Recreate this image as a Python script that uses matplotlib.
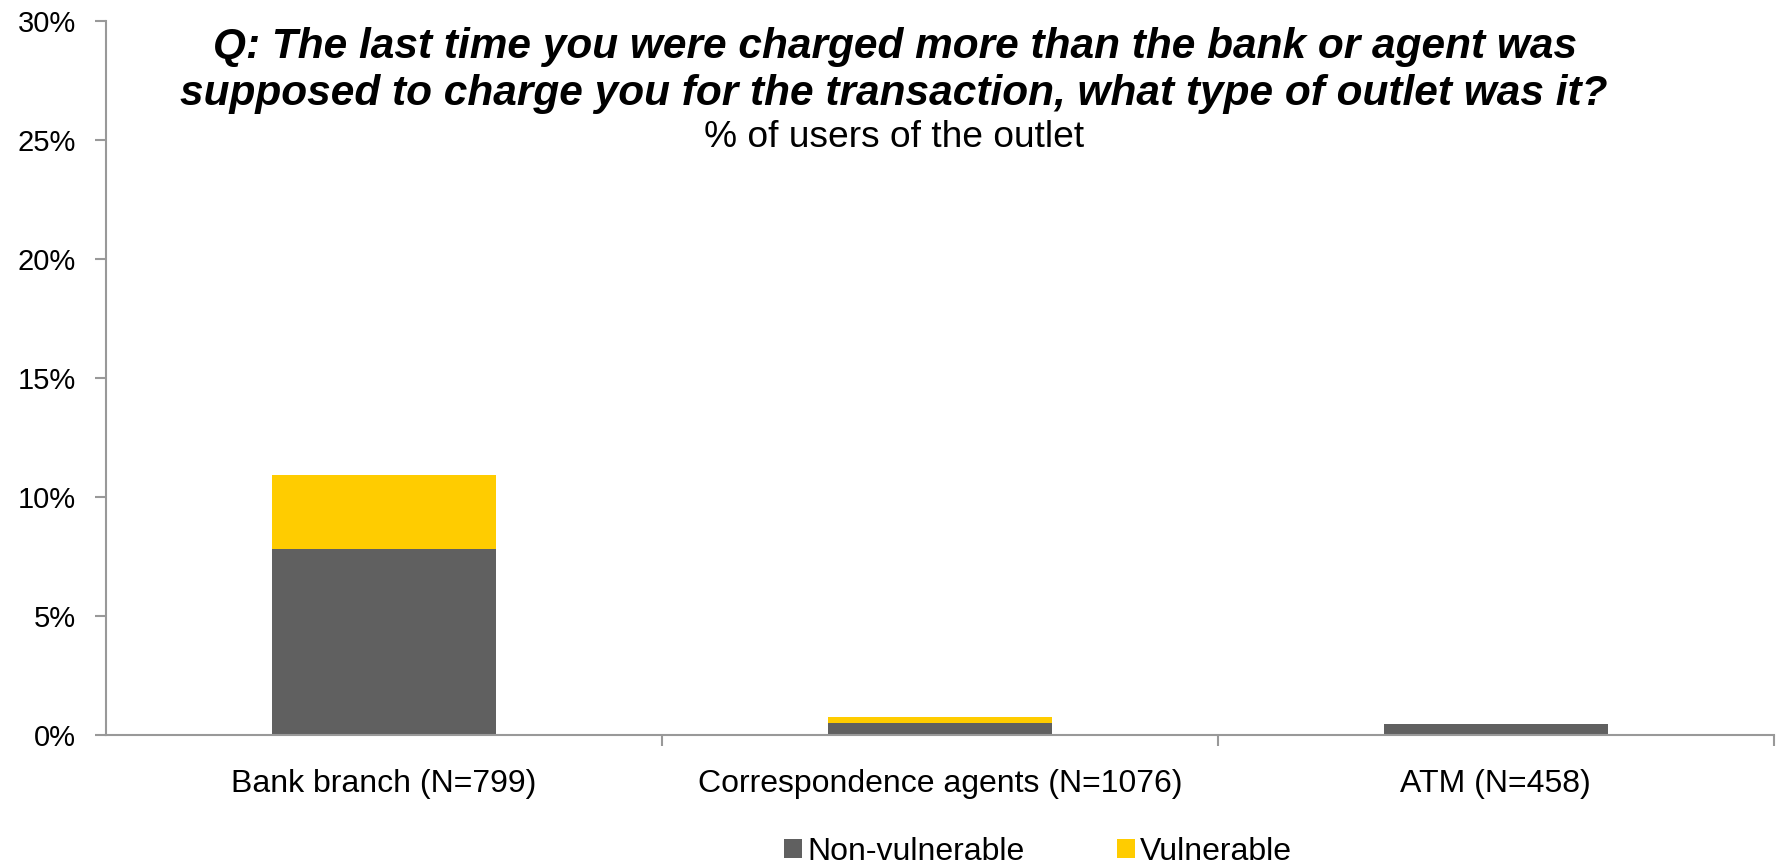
import matplotlib
matplotlib.use("Agg")
import matplotlib.pyplot as plt
from matplotlib.ticker import FixedLocator, PercentFormatter
from matplotlib.patches import Patch

plt.rcParams['font.family'] = ['Liberation Sans', 'DejaVu Sans']

categories = ["Bank branch (N=799)", "Correspondence agents (N=1076)", "ATM (N=458)"]
non_vulnerable = [7.83, 0.50, 0.46]
vulnerable = [3.09, 0.26, 0.0]
series_names = ["Non-vulnerable", "Vulnerable"]
colors = ["#606060", "#FFCC00"]

fig = plt.figure(figsize=(17.81, 8.67), dpi=100)
ax = fig.add_axes([0.0595, 0.1519, 0.9364, 0.8242])

x = list(range(len(categories)))
ax.bar(x, non_vulnerable, width=0.403, color=colors[0], edgecolor="none", zorder=2)
ax.bar(x, vulnerable, width=0.403, bottom=non_vulnerable, color=colors[1], edgecolor="none", zorder=2)

ax.set_xlim(-0.5, len(categories) - 0.5)
ax.set_ylim(0, 30)
ax.set_yticks([0, 5, 10, 15, 20, 25, 30])
ax.yaxis.set_major_formatter(PercentFormatter(decimals=0))
ax.set_xticks(x)
ax.set_xticklabels(categories)
ax.xaxis.set_minor_locator(FixedLocator([0.5, 1.5, 2.5]))

for s in ["top", "right"]:
    ax.spines[s].set_visible(False)
for s in ["left", "bottom"]:
    ax.spines[s].set_color("#999999")
    ax.spines[s].set_linewidth(1.5)
    ax.spines[s].set_zorder(3)

ax.tick_params(axis="y", which="major", direction="out", length=8, width=1.5,
               color="#999999", labelsize=21, pad=13.5, labelcolor="black")
ax.tick_params(axis="x", which="major", length=0, labelsize=23, pad=24, labelcolor="black")
ax.tick_params(axis="x", which="minor", direction="out", length=8, width=1.5, color="#999999")

fig.text(0.5025, 1 - 58 / 867, "Q: The last time you were charged more than the bank or agent was",
         ha="center", va="baseline", fontsize=30.5, fontweight="bold", fontstyle="italic")
fig.text(0.502, 1 - 105 / 867, "supposed to charge you for the transaction, what type of outlet was it?",
         ha="center", va="baseline", fontsize=30.5, fontweight="bold", fontstyle="italic")
fig.text(0.502, 1 - 147 / 867, "% of users of the outlet", ha="center", va="baseline", fontsize=26.7)

handles = [Patch(facecolor=c, edgecolor="none") for c in colors]
fig.legend(handles, series_names, loc="center", bbox_to_anchor=(0.5828, 0.0173),
           ncol=2, frameon=False, fontsize=23, handlelength=0.56, handleheight=0.56,
           handletextpad=0.17, columnspacing=2.9, borderpad=0, borderaxespad=0)

fig.savefig("out.png", dpi=100)
